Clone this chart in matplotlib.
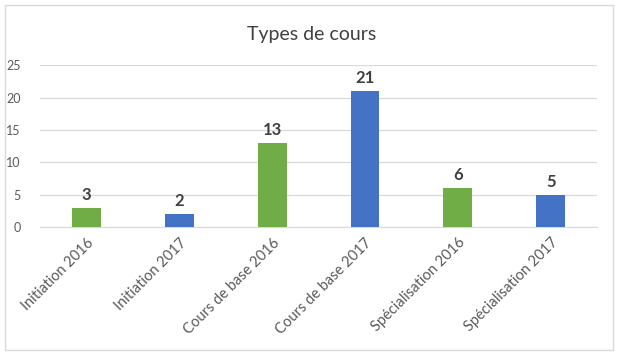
import matplotlib
matplotlib.use('Agg')
import matplotlib.pyplot as plt
from matplotlib.patches import Rectangle

categories = ['Initiation 2016', 'Initiation 2017', 'Cours de base 2016',
              'Cours de base 2017', 'Spécialisation 2016', 'Spécialisation 2017']
values = [3, 2, 13, 21, 6, 5]
colors = ['#70AD47', '#4472C4', '#70AD47', '#4472C4', '#70AD47', '#4472C4']

plt.rcParams['font.family'] = ['Lato', 'DejaVu Sans']

fig = plt.figure(figsize=(6.24, 3.6), dpi=100)
ax = fig.add_axes([0.064, 0.369, 0.893, 0.45])

# light frame around the chart area
fig.patches.append(Rectangle((5 / 624, 10 / 360), 608 / 624, 345 / 360,
                             transform=fig.transFigure, fill=False,
                             edgecolor='#d9d9d9', linewidth=1))

x = range(len(categories))
bars = ax.bar(x, values, width=0.31, color=colors, zorder=3)
for b, v in zip(bars, values):
    ax.text(b.get_x() + b.get_width() / 2, v + 0.8, str(v), ha='center', va='bottom',
            fontsize=12, fontweight='bold', color='#404040')

ax.set_ylim(0, 25)
ax.set_xlim(-0.5, len(categories) - 0.5)
ax.set_yticks([0, 5, 10, 15, 20, 25])
ax.yaxis.grid(True, color='#d9d9d9', linewidth=0.9, zorder=0)
ax.set_xticks(list(x))
ax.set_xticklabels(categories, rotation=45, ha='right', rotation_mode='anchor',
                   fontsize=10.5, color='#595959')
ax.tick_params(axis='y', labelsize=9, colors='#595959', length=0, pad=14)
ax.tick_params(axis='x', length=0, pad=6)
for s in ['top', 'right', 'left']:
    ax.spines[s].set_visible(False)
ax.spines['bottom'].set_color('#d9d9d9')

fig.text(0.5, 0.905, 'Types de cours', ha='center', va='center', fontsize=14, color='#404040')

fig.savefig('out.png', dpi=100)
